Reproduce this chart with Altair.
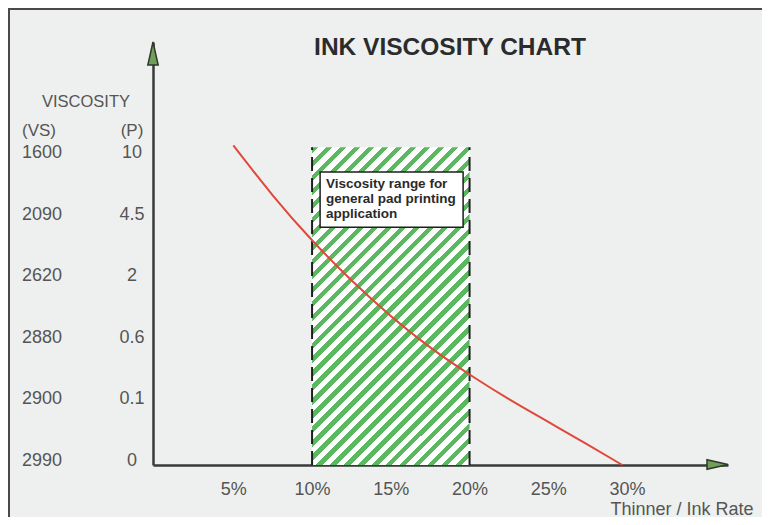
import altair as alt
import pandas as pd

# ---------------- data ----------------
rate_ticks = [5, 10, 15, 20, 25, 30]                 # Thinner / Ink rate, %
levels = [0, 1, 2, 3, 4, 5]                          # viscosity rows (bottom -> top)
vs_values = ["2990", "2900", "2880", "2620", "2090", "1600"]
p_values = ["0", "0.1", "0.6", "2", "4.5", "10"]
curve_rate = [5.0, 7.5, 10.0, 12.5, 15.0, 17.5, 20.0, 22.5, 25.0, 27.5, 29.7]
curve_level = [5.19, 4.38, 3.65, 3.00, 2.42, 1.91, 1.47, 1.07, 0.70, 0.33, 0.0]
range_rate = [10, 20]
range_top = [5.16]
title_text = ["INK VISCOSITY CHART"]
note_lines = ["Viscosity range for", "general pad printing", "application"]
x_title = "Thinner / Ink Rate"

# ---------------- styling ----------------
FONT = "Liberation Sans"
LABEL_COLOR = "#555555"
AXIS_COLOR = "#3a3a3a"
BG = "#eef0ef"
GREEN = "#5cb860"
RED = "#e0483b"

xs = alt.Scale(domain=[-0.1, 36.41], nice=False, zero=False)
ys = alt.Scale(domain=[0, 6.87], nice=False, zero=False)

x_axis = alt.Axis(
    values=rate_ticks, labelExpr="datum.value + '%'", ticks=False, tickSize=0,
    grid=False, domainColor=AXIS_COLOR, domainWidth=2.5, labelPadding=15,
    labelFont=FONT, labelFontSize=18, labelColor=LABEL_COLOR,
    title=x_title, titleFont=FONT, titleFontSize=18, titleFontWeight="normal",
    titleColor=LABEL_COLOR, titleX=457, titleY=49, titleAlign="left",
    titleAnchor="start", titleBaseline="alphabetic",
)
y_axis = alt.Axis(
    labels=False, ticks=False, tickSize=0, grid=False, title="",
    domainColor=AXIS_COLOR, domainWidth=2.5,
)


def X(field):
    return alt.X(field, type="quantitative", scale=xs, axis=x_axis)


def Y(field):
    return alt.Y(field, type="quantitative", scale=ys, axis=y_axis)


one = pd.DataFrame({"k": [0]})

# striped (hatched) fill as a hard-stop linear gradient at 45 degrees
N_STRIPES = 34
stops = []
for k in range(N_STRIPES):
    a = round(k / N_STRIPES, 5)
    b = round((k + 0.45) / N_STRIPES, 5)
    c = round((k + 1) / N_STRIPES, 5)
    stops += [
        alt.GradientStop(offset=a, color=GREEN),
        alt.GradientStop(offset=b, color=GREEN),
        alt.GradientStop(offset=b, color="#ffffff"),
        alt.GradientStop(offset=c, color="#ffffff"),
    ]
stripe_fill = alt.LinearGradient(
    gradient="linear", stops=stops, x1=0, y1=0, x2=0.5949, y2=1.2008
)

# frame around the whole figure
frame = alt.Chart(one).mark_rect(
    fill="transparent", stroke="#4a4a4a", strokeWidth=2
).encode(x=alt.value(-144), x2=alt.value(700), y=alt.value(-33), y2=alt.value(600))

range_df = pd.DataFrame({"lo": [range_rate[0]], "hi": [range_rate[1]],
                         "bottom": [0], "top": range_top})
band = alt.Chart(range_df).mark_rect(fill=stripe_fill).encode(
    x=X("lo"), x2="hi", y=Y("bottom"), y2="top"
)

edges_df = pd.DataFrame({"rate": range_rate, "bottom": [0, 0], "top": range_top * 2})
edges = alt.Chart(edges_df).mark_rule(
    color="#1e1e1e", strokeWidth=2, strokeDash=[14, 7]
).encode(x=X("rate"), y=Y("bottom"), y2="top")

curve_df = pd.DataFrame({"rate": curve_rate, "level": curve_level})
curve = alt.Chart(curve_df).mark_line(
    color=RED, strokeWidth=2, interpolate="natural"
).encode(x=X("rate"), y=Y("level"))

note_box = alt.Chart(one).mark_rect(
    fill="#ffffff", stroke="#1e1e1e", strokeWidth=1.5
).encode(x=alt.datum(10.51), x2=alt.datum(19.59), y=alt.datum(3.86), y2=alt.datum(4.76))

note_text = alt.Chart(one).mark_text(
    align="left", baseline="alphabetic", font=FONT, fontSize=13.5,
    fontWeight="bold", color="#2a2a2a", lineHeight=15
).encode(x=alt.datum(10.89), y=alt.datum(4.50), text=alt.value(note_lines))

labels_df = pd.DataFrame({"level": levels, "vs": vs_values, "p": p_values})
vs_text = alt.Chart(labels_df).mark_text(
    align="left", baseline="middle", font=FONT, fontSize=18, color=LABEL_COLOR, dy=-4
).encode(x=alt.value(-131), y=Y("level"), text="vs:N")
p_text = alt.Chart(labels_df).mark_text(
    align="center", baseline="middle", font=FONT, fontSize=18, color=LABEL_COLOR, dy=-4
).encode(x=alt.value(-21), y=Y("level"), text="p:N")

vs_head = alt.Chart(pd.DataFrame({"t": ["(VS)"]})).mark_text(
    align="left", baseline="middle", font=FONT, fontSize=17, color=LABEL_COLOR
).encode(x=alt.value(-131), y=alt.value(89), text="t:N")
p_head = alt.Chart(pd.DataFrame({"t": ["(P)"]})).mark_text(
    align="center", baseline="middle", font=FONT, fontSize=17, color=LABEL_COLOR
).encode(x=alt.value(-21), y=alt.value(89), text="t:N")
visc_head = alt.Chart(pd.DataFrame({"t": ["VISCOSITY"]})).mark_text(
    align="center", baseline="middle", font=FONT, fontSize=16.5, color=LABEL_COLOR
).encode(x=alt.value(-67), y=alt.value(60), text="t:N")

title = alt.Chart(pd.DataFrame({"t": title_text})).mark_text(
    align="center", baseline="alphabetic", font=FONT, fontSize=24.5,
    fontWeight="bold", color="#2b2b2b"
).encode(x=alt.value(297), y=alt.value(13), text="t:N")

y_arrow = alt.Chart(one).mark_point(
    shape="M0,-1L0.45,1L-0.45,1Z", size=529, filled=True, fill="#6f9f5a",
    stroke="#2f3a2a", strokeWidth=1.5, opacity=1
).encode(x=alt.value(0), y=alt.value(11.5))
x_arrow = alt.Chart(one).mark_point(
    shape="M1,0L-1,-0.45L-1,0.45Z", size=441, filled=True, fill="#6f9f5a",
    stroke="#2f3a2a", strokeWidth=1.5, opacity=1
).encode(x=alt.value(564.5), y=alt.value(422.5))

chart = alt.layer(
    frame, band, edges, curve, note_box, note_text,
    vs_text, p_text, vs_head, p_head, visc_head, title, y_arrow, x_arrow
).properties(
    width=575, height=423,
    padding={"left": 145, "top": 34, "right": 34, "bottom": 52},
    autosize=alt.AutoSizeParams(type="none"),
    background=BG,
).configure_view(stroke="transparent")

chart.save("out.html", embed_options={"renderer": "svg", "actions": False})
